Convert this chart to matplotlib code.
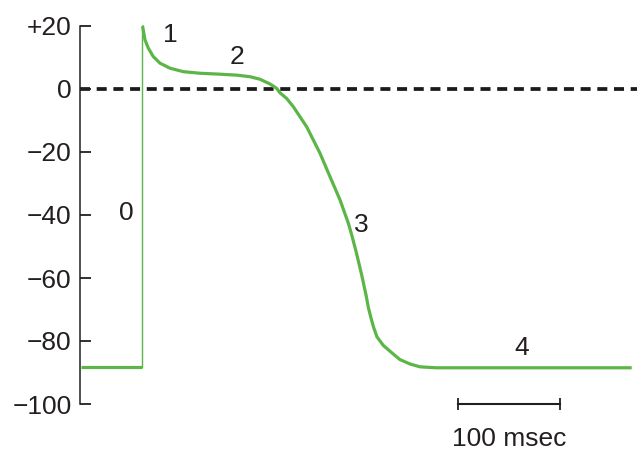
import matplotlib.pyplot as plt

plt.rcParams['font.family'] = ['Liberation Sans', 'DejaVu Sans']

# membrane potential (mV) vs time (ms)
rest_t = [-60, 0]
rest_v = [-88.3, -88.3]
upstroke_t = [0, 0]
upstroke_v = [-88.3, 20]
repol_t = [0, 0.7, 2.95, 6.2, 11.1, 17.7, 27.6, 40.7, 57.1, 76.8, 93.2, 106.3, 116.1,
           126, 132.6, 135.8, 142.4, 148.9, 162.1, 175.2, 185, 194.9, 203.1, 206.4,
           211.1, 216.2, 220.5, 222.9, 225.4, 227.9, 231.3, 237.5, 246.1, 253.9,
           263.8, 273.6, 289.4, 313, 482]
repol_v = [20, 19.8, 15.6, 13.0, 10.3, 8.2, 6.6, 5.5, 5.0, 4.7, 4.4, 3.9, 3.1,
           1.6, 0.2, -1.2, -3.0, -5.6, -12.0, -20.4, -27.8, -35.2, -42.6, -46.3,
           -52.1, -59.0, -65.4, -69.5, -72.7, -75.6, -78.7, -81.4, -83.8, -85.9,
           -87.3, -88.2, -88.5, -88.5, -88.5]

yticks = [20, 0, -20, -40, -60, -80, -100]
ytick_labels = ['+20', '0', '\u221220', '\u221240', '\u221260', '\u221280', '\u2212100']

phase_labels = ['0', '1', '2', '3', '4']
phase_t = [-15, 27.6, 93.2, 216, 373.7]
phase_v = [-39.5, 17.1, 10.3, -43.2, -82.3]

scale_start = 311
scale_len = 100

green = '#5cb547'
ink = '#231f20'

fig = plt.figure(figsize=(6.37, 4.55), dpi=100)
ax = fig.add_axes([80 / 637, 51 / 455, 557 / 637, 378 / 455])
ax.set_xlim(-61, 487.2)
ax.set_ylim(-100, 20)

# zero line
ax.axhline(0, color='#1a1a1a', lw=2.7, dashes=(2.67, 1.78), zorder=1)

# action potential
ax.plot(rest_t, rest_v, color=green, lw=2.3, solid_capstyle='butt', clip_on=False, zorder=3)
ax.plot(upstroke_t, upstroke_v, color=green, lw=1.0, clip_on=False, zorder=3)
ax.plot(repol_t, repol_v, color=green, lw=2.3, solid_capstyle='butt',
        solid_joinstyle='round', clip_on=False, zorder=3)

# phase numbers
for lab, t, v in zip(phase_labels, phase_t, phase_v):
    ax.text(t, v, lab, fontsize=19, color=ink, ha='center', va='center')

# 100 msec scale bar
ax.plot([scale_start, scale_start + scale_len], [-100, -100], color=ink, lw=1.5,
        marker='|', ms=9, mew=1.3, clip_on=False)
ax.text(scale_start + scale_len / 2, -111, '100 msec', fontsize=19, color=ink,
        ha='center', va='center')

# axis styling
for side in ['top', 'right', 'bottom']:
    ax.spines[side].set_visible(False)
ax.spines['left'].set_linewidth(1.1)
ax.spines['left'].set_color(ink)
ax.set_xticks([])
ax.set_yticks(yticks)
ax.set_yticklabels(ytick_labels)
ax.tick_params(axis='y', direction='in', length=8, width=1.3, colors=ink,
               labelsize=19, pad=6)

plt.savefig('out.png', dpi=100)
